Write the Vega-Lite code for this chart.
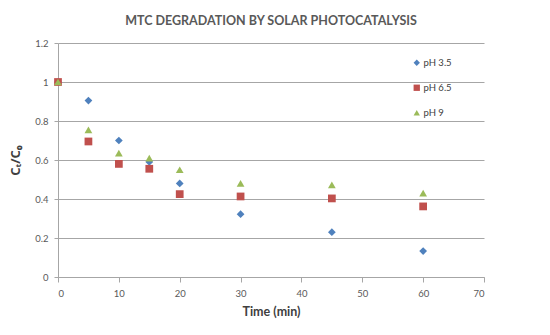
{
  "$schema": "https://vega.github.io/schema/vega-lite/v6.json",
  "width": 426,
  "height": 234,
  "autosize": {"type": "none"},
  "padding": {"left": 58, "top": 43, "right": 66, "bottom": 58},
  "background": "white",
  "title": {
    "text": "MTC DEGRADATION BY SOLAR PHOTOCATALYSIS",
    "font": "Lato",
    "fontSize": 12.5,
    "fontWeight": "bold",
    "color": "#595959",
    "anchor": "middle",
    "offset": 11
  },
  "config": {
    "view": {"stroke": null},
    "font": "Lato"
  },
  "data": {
    "values": [
      {"t": 0, "c": 1.0, "s": "pH 3.5"},
      {"t": 5, "c": 0.905, "s": "pH 3.5"},
      {"t": 10, "c": 0.70, "s": "pH 3.5"},
      {"t": 15, "c": 0.59, "s": "pH 3.5"},
      {"t": 20, "c": 0.48, "s": "pH 3.5"},
      {"t": 30, "c": 0.322, "s": "pH 3.5"},
      {"t": 45, "c": 0.23, "s": "pH 3.5"},
      {"t": 60, "c": 0.133, "s": "pH 3.5"},
      {"t": 0, "c": 1.0, "s": "pH 6.5"},
      {"t": 5, "c": 0.695, "s": "pH 6.5"},
      {"t": 10, "c": 0.58, "s": "pH 6.5"},
      {"t": 15, "c": 0.555, "s": "pH 6.5"},
      {"t": 20, "c": 0.425, "s": "pH 6.5"},
      {"t": 30, "c": 0.413, "s": "pH 6.5"},
      {"t": 45, "c": 0.403, "s": "pH 6.5"},
      {"t": 60, "c": 0.362, "s": "pH 6.5"},
      {"t": 0, "c": 1.0, "s": "pH 9"},
      {"t": 5, "c": 0.755, "s": "pH 9"},
      {"t": 10, "c": 0.635, "s": "pH 9"},
      {"t": 15, "c": 0.61, "s": "pH 9"},
      {"t": 20, "c": 0.55, "s": "pH 9"},
      {"t": 30, "c": 0.48, "s": "pH 9"},
      {"t": 45, "c": 0.472, "s": "pH 9"},
      {"t": 60, "c": 0.43, "s": "pH 9"}
    ]
  },
  "mark": {"type": "point", "filled": true, "opacity": 1, "size": 60},
  "encoding": {
    "x": {
      "field": "t",
      "type": "quantitative",
      "scale": {"domain": [0, 70], "nice": false},
      "axis": {
        "values": [0, 10, 20, 30, 40, 50, 60, 70],
        "title": "Time (min)",
        "titleFont": "Lato",
        "titleFontSize": 12.5,
        "titleFontWeight": "bold",
        "titleColor": "#404040",
        "titlePadding": 8,
        "labelFontSize": 9.5,
        "labelColor": "#595959",
        "labelPadding": 6,
        "grid": false,
        "domainColor": "#a6a6a6",
        "tickColor": "#a6a6a6",
        "tickSize": 5
      }
    },
    "y": {
      "field": "c",
      "type": "quantitative",
      "scale": {"domain": [0, 1.2], "nice": false},
      "axis": {
        "values": [0, 0.2, 0.4, 0.6, 0.8, 1.0, 1.2],
        "format": "~g",
        "title": "Cₜ/C₀",
        "titleFont": "Open Sans",
        "titleFontSize": 13,
        "titleFontWeight": "bold",
        "titleColor": "#404040",
        "titlePadding": 12,
        "labelFontSize": 9.5,
        "labelColor": "#595959",
        "labelPadding": 6,
        "grid": true,
        "gridColor": "#a6a6a6",
        "gridWidth": 1,
        "domainColor": "#a6a6a6",
        "tickColor": "#a6a6a6",
        "tickSize": 4
      }
    },
    "color": {
      "field": "s",
      "type": "nominal",
      "scale": {"domain": ["pH 3.5", "pH 6.5", "pH 9"], "range": ["#4f81bd", "#c0504d", "#9bbb59"]},
      "legend": {
        "title": null,
        "orient": "none",
        "legendX": 354,
        "legendY": 15,
        "labelFont": "Lato",
        "labelFontSize": 9.5,
        "labelColor": "#404040",
        "rowPadding": 14,
        "symbolSize": 40,
        "labelOffset": 2
      }
    },
    "shape": {
      "field": "s",
      "type": "nominal",
      "scale": {"domain": ["pH 3.5", "pH 6.5", "pH 9"], "range": ["diamond", "square", "triangle-up"]},
      "legend": null
    }
  }
}
